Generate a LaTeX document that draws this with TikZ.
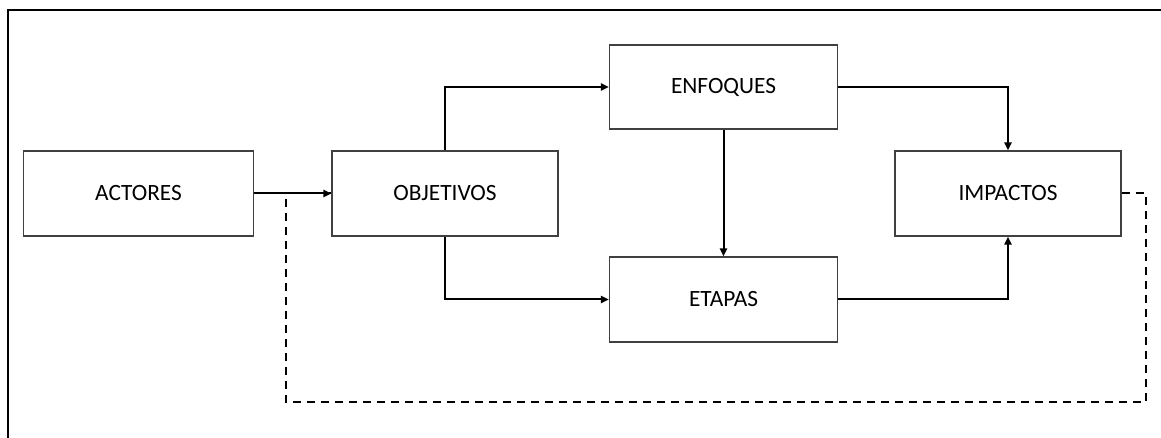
\documentclass[tikz,border=0pt]{standalone}
\usepackage{fontspec}
\setmainfont{Carlito}
\usetikzlibrary{arrows.meta}
\begin{document}
\begin{tikzpicture}[x=0.75pt,y=-0.75pt,
  box/.style={draw=black!75,line width=1.1pt,fill=white,inner sep=0pt,
    font=\fontsize{17.5}{20}\selectfont},
  link/.style={draw=black,line width=1.5pt,-{Triangle[length=6pt,width=5.5pt]}},
  back/.style={draw=black,line width=1.5pt,dash pattern=on 6pt off 4.5pt}]
\useasboundingbox (0,0) rectangle (1161,438);
% frame edges
\draw[line width=1.5pt] (7.5,438) -- (7.5,10.5) -- (1161,10.5);
% boxes
\node[box,minimum width=229.5*0.75pt,minimum height=85*0.75pt] (act) at (138.5,193.5) {ACTORES};
\node[box,minimum width=226*0.75pt,minimum height=85*0.75pt] (obj) at (445,193.5) {OBJETIVOS};
\node[box,minimum width=228*0.75pt,minimum height=84*0.75pt] (enf) at (723.5,87) {ENFOQUES};
\node[box,minimum width=228*0.75pt,minimum height=85*0.75pt] (eta) at (723.5,299.5) {ETAPAS};
\node[box,minimum width=226*0.75pt,minimum height=85*0.75pt] (imp) at (1008,193.5) {IMPACTOS};
% feedback loop
\coordinate (fb1) at (1146,193.5);
\coordinate (fb2) at (1146,402);
\coordinate (fb3) at (286,402);
\coordinate (fb4) at (286,193.5);
\draw[back] (imp.east) -- (fb1) -- (fb2) -- (fb3) -- (fb4) -- (obj.west);
% connectors
\draw[link] (act.east) -- (obj.west);
\draw[link] (obj.north) |- (enf.west);
\draw[link] (obj.south) |- (eta.west);
\draw[link] (enf.south) -- (eta.north);
\draw[link] (enf.east) -| (imp.north);
\draw[link] (eta.east) -| (imp.south);
\end{tikzpicture}
\end{document}
